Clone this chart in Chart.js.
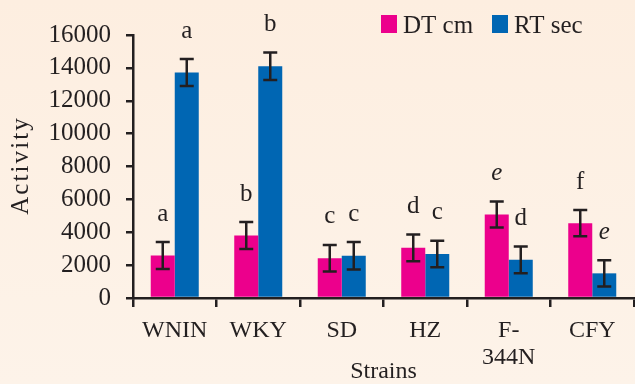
<!DOCTYPE html>
<html>
<head>
<meta charset="utf-8">
<script src="https://cdn.jsdelivr.net/npm/chart.js@4/dist/chart.umd.min.js"></script>
<style>
  html, body { margin: 0; padding: 0; background: #fdf0e3; }
  #wrap { width: 635px; height: 384px; }
</style>
</head>
<body>
<div id="wrap"><canvas id="grafico" width="635" height="384"></canvas></div>
<script>
// datos
const cepas = ['WNIN', 'WKY', 'SD', 'HZ', ['F-', '344N'], 'CFY'];
const dtValores = [2580, 3800, 2420, 3050, 5080, 4550];
const rtValores = [13720, 14100, 2570, 2680, 2320, 1500];
const dtErrores = [820, 820, 810, 820, 790, 800];
const rtErrores = [820, 840, 830, 810, 820, 800];
const dtLetras = ['a', 'b', 'c', 'd', 'e', 'f'];
const rtLetras = ['a', 'b', 'c', 'c', 'd', 'e'];
const yMin = 0, yMax = 16000, yPaso = 2000;

const tinta = '#231f20';
const rosa = '#ec008c';
const azul = '#0066b3';
const fuente = 'Liberation Serif';

Chart.defaults.color = tinta;
Chart.defaults.font.family = fuente;

const fondo = {
  id: 'fondo',
  beforeDraw(chart) {
    const c = chart.ctx;
    const g = c.createLinearGradient(0, 0, 0, chart.height);
    g.addColorStop(0, '#fdeee0');
    g.addColorStop(1, '#fdf3e9');
    c.save();
    c.fillStyle = g;
    c.fillRect(0, 0, chart.width, chart.height);
    c.restore();
  }
};

const errores = {
  id: 'errores',
  afterDatasetsDraw(chart) {
    const c = chart.ctx;
    const y = chart.scales.y;
    const series = [
      {v: dtValores, e: dtErrores, l: dtLetras},
      {v: rtValores, e: rtErrores, l: rtLetras}
    ];
    c.save();
    series.forEach(function(s, d){
      const meta = chart.getDatasetMeta(d);
      meta.data.forEach(function(bar, i){
        const x = bar.x;
        const arriba = y.getPixelForValue(s.v[i] + s.e[i]);
        const abajo = y.getPixelForValue(s.v[i] - s.e[i]);
        c.strokeStyle = tinta;
        c.lineWidth = 2.5;
        c.beginPath();
        c.moveTo(x, arriba); c.lineTo(x, abajo);
        c.moveTo(x - 7, arriba); c.lineTo(x + 7, arriba);
        c.moveTo(x - 7, abajo); c.lineTo(x + 7, abajo);
        c.stroke();

        const letra = s.l[i];
        c.fillStyle = tinta;
        c.textAlign = 'center';
        c.textBaseline = 'middle';
        c.font = (letra === 'e' ? 'italic ' : '') + '25px "' + fuente + '"';
        c.fillText(letra, x, arriba - 28);
      });
    });
    c.restore();
  }
};

const leyenda = {
  id: 'leyenda',
  afterDraw(chart) {
    const c = chart.ctx;
    const items = [
      {txt: 'DT cm', color: rosa, x: 381},
      {txt: 'RT sec', color: azul, x: 492}
    ];
    c.save();
    c.font = '25px "' + fuente + '"';
    c.textBaseline = 'middle';
    c.textAlign = 'left';
    items.forEach(function(it){
      c.fillStyle = it.color;
      c.fillRect(it.x, 15, 16, 18);
      c.fillStyle = tinta;
      c.fillText(it.txt, it.x + 22, 26);
    });
    c.restore();
  }
};

new Chart('grafico', {
  type: 'bar',
  data: {
    labels: cepas,
    datasets: [
      {
        label: 'DT cm',
        data: dtValores,
        backgroundColor: rosa,
        borderWidth: 0
      },
      {
        label: 'RT sec',
        data: rtValores,
        backgroundColor: azul,
        borderWidth: 0
      }
    ]
  },
  options: {
    responsive: false,
    animation: false,
    devicePixelRatio: 1,
    categoryPercentage: 0.575,
    barPercentage: 1,
    layout: { padding: { top: 35, right: 1, left: 0, bottom: 0 } },
    plugins: {
      legend: { display: false },
      tooltip: { enabled: false }
    },
    scales: {
      x: {
        grid: { display: true, drawOnChartArea: false, offset: true, color: tinta, tickColor: tinta, tickLength: 9, lineWidth: 2.5 },
        border: { display: true, color: tinta, width: 2.5 },
        ticks: { color: tinta, padding: 11, font: { size: 24, lineHeight: 1.1 }, maxRotation: 0, autoSkip: false },
        title: { display: true, text: 'Strains', color: tinta, font: { size: 24, lineHeight: 1 }, padding: { top: 0, bottom: 0 } },
        afterFit(scale) { scale.height = 86; }
      },
      y: {
        min: yMin,
        max: yMax,
        grid: { display: true, drawOnChartArea: false, color: tinta, tickColor: tinta, tickLength: 7, lineWidth: 2.5 },
        border: { display: true, color: tinta, width: 2.5 },
        ticks: {
          stepSize: yPaso,
          autoSkip: false,
          color: tinta,
          padding: 15,
          font: { size: 25 },
          callback(valor) { return String(valor); }
        },
        title: { display: true, text: 'A\u200Ac\u200At\u200Ai\u200Av\u200Ai\u200At\u200Ay', color: tinta, font: { size: 25 }, padding: { top: 6, bottom: 0 } },
        afterFit(scale) { scale.width = 133; }
      }
    }
  },
  plugins: [fondo, errores, leyenda]
});
</script>
</body>
</html>
